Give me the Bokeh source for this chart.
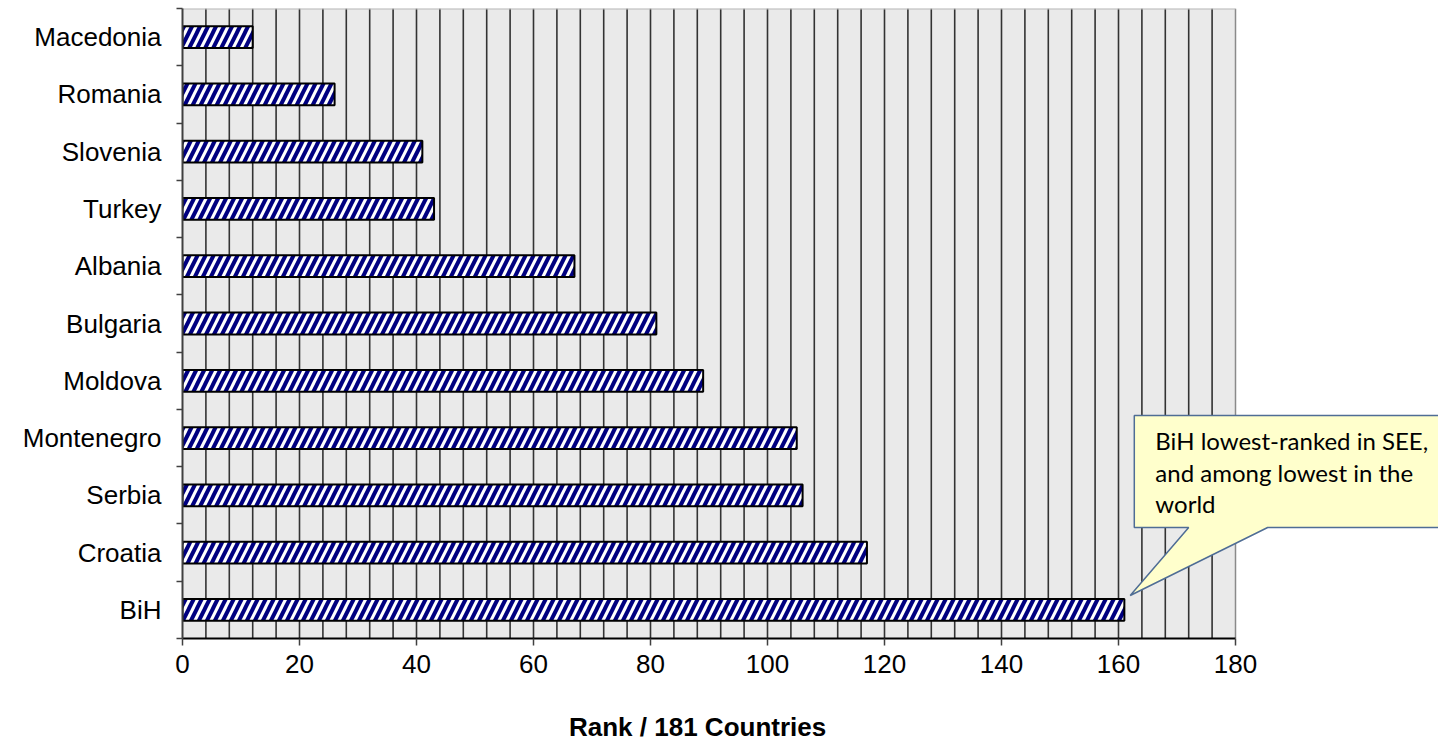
from bokeh.plotting import figure
from bokeh.models import FixedTicker, Range1d, PolyAnnotation, Label, Title
from bokeh.embed import file_html
from bokeh.resources import INLINE

# ---- data ----
countries = ["BiH", "Croatia", "Serbia", "Montenegro", "Moldova", "Bulgaria",
             "Albania", "Turkey", "Slovenia", "Romania", "Macedonia"]
ranks = [161, 117, 106, 105, 89, 81, 67, 43, 41, 26, 12]
x_ticks = [0, 20, 40, 60, 80, 100, 120, 140, 160, 180]
x_max = 180
grid_step = 4
x_title = "Rank / 181 Countries"
callout_lines = ["BiH lowest-ranked in SEE,", "and among lowest in the", "world"]

ypos = list(range(1, len(countries) + 1))
y0, y1 = 0.5, len(countries) + 0.5

W, H = 1438, 744
frame_left, frame_top, frame_bottom, axis_right_px = 182, 8, 638, 1235
x_end = x_max * (W - frame_left) / (axis_right_px - frame_left)

p = figure(width=W, height=H,
           x_range=Range1d(0, x_end), y_range=Range1d(y0, y1),
           output_backend="svg", toolbar_location=None,
           min_border_left=frame_left, min_border_right=0,
           min_border_top=frame_top, min_border_bottom=H - frame_bottom)

p.background_fill_color = "white"
p.border_fill_color = "white"
p.outline_line_color = None
p.xgrid.visible = False
p.ygrid.visible = False

# plot-area background and grid (only up to x_max)
p.quad(left=[0], right=[x_max], bottom=[y0], top=[y1], fill_color="#eaeaea", line_color=None)
gx = list(range(grid_step, x_max, grid_step))
p.segment(x0=gx, x1=gx, y0=[y0] * len(gx), y1=[y1] * len(gx), line_color="#333333", line_width=1.6)
p.segment(x0=[x_max], x1=[x_max], y0=[y0], y1=[y1], line_color="#8a8a8a", line_width=1.5)
p.segment(x0=[0], x1=[x_max], y0=[y1], y1=[y1], line_color="#b8b8b8", line_width=2)

# bars
p.hbar(y=ypos, left=0, right=ranks, height=0.38,
       fill_color="white", line_color="black", line_width=2,
       hatch_pattern="/", hatch_color="#000080", hatch_scale=16, hatch_weight=4)

font = "Liberation Sans"

# y axis
p.yaxis.ticker = FixedTicker(ticks=ypos, minor_ticks=[y + 0.5 for y in range(0, len(countries) + 1)])
p.yaxis.major_label_overrides = {y: c for y, c in zip(ypos, countries)}
p.yaxis.major_tick_out = 0
p.yaxis.major_tick_in = 0
p.yaxis.minor_tick_out = 6
p.yaxis.minor_tick_in = 0
p.yaxis.minor_tick_line_color = "#404040"
p.yaxis.minor_tick_line_width = 1.5
p.yaxis.axis_line_color = "#404040"
p.yaxis.axis_line_width = 2
p.yaxis.major_label_text_font = font
p.yaxis.major_label_text_font_size = "26px"
p.yaxis.major_label_text_color = "black"
p.yaxis.major_label_standoff = 15

# x axis (bounded to the data area)
p.xaxis.bounds = (0, x_max)
p.xaxis.ticker = FixedTicker(ticks=x_ticks, minor_ticks=[])
p.xaxis.major_tick_out = 7
p.xaxis.major_tick_in = 0
p.xaxis.minor_tick_out = 0
p.xaxis.major_tick_line_color = "#404040"
p.xaxis.major_tick_line_width = 1.5
p.xaxis.axis_line_color = "black"
p.xaxis.axis_line_width = 2
p.xaxis.major_label_text_font = font
p.xaxis.major_label_text_font_size = "26px"
p.xaxis.major_label_text_color = "black"
p.xaxis.major_label_standoff = 9

# blank spacer title to push the axis title down
p.add_layout(Title(text=" ", text_font_size="10px", standoff=21), "below")

title_center_px = 696.5
title_w = 256
t = Title(text=x_title, align="left",
          offset=title_center_px - frame_left - title_w / 2,
          text_font=font, text_font_size="26px", text_font_style="bold",
          text_color="black", standoff=0)
p.add_layout(t, "below")

# callout
tip_x = ranks[0] + 1.0
tip_y = ypos[0] + 0.25
box_l, box_r, box_t, box_b = 162.7, x_end + 5, 4.394, 2.438
poly = PolyAnnotation(
    xs=[box_l, box_r, box_r, 185.5, tip_x, 172.0, box_l],
    ys=[box_t, box_t, box_b, box_b, tip_y, box_b, box_b],
    xs_units="data", ys_units="data",
    fill_color="#ffffcc", fill_alpha=1.0,
    line_color="#4f6d95", line_width=1.5, line_alpha=1.0, level="overlay")
p.add_layout(poly)

for i, line in enumerate(callout_lines):
    p.add_layout(Label(x=166.3, y=3.957 - i * 0.55, text=line,
                       text_font="Lato", text_font_size="24px",
                       text_color="black", text_baseline="middle",
                       text_align="left", level="overlay"))

open("out.html", "w").write(file_html(p, INLINE))
